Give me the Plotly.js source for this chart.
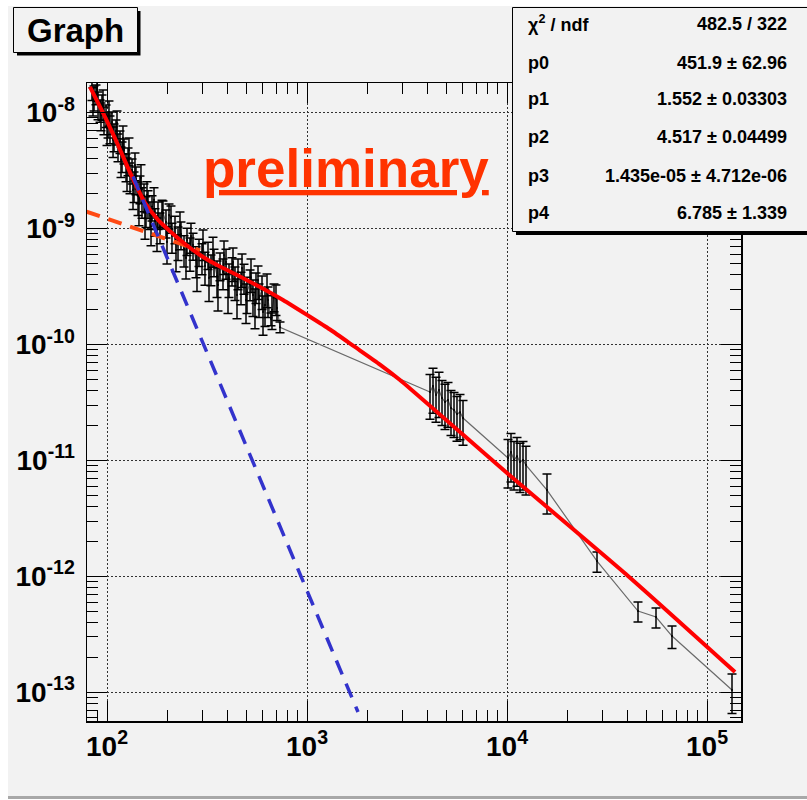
<!DOCTYPE html>
<html>
<head>
<meta charset="utf-8">
<script src="https://cdn.plot.ly/plotly-3.0.1.min.js"></script>
<style>
  html, body { margin: 0; padding: 0; background: #ffffff; width: 807px; height: 800px; overflow: hidden; }
  #chart { position: absolute; left: 8px; top: 6px; width: 799px; height: 790px; border-bottom: 3px solid #a8a8a8; }
</style>
</head>
<body>
<div id="chart"></div>
<script>
// Measured flux points (x = energy, y = flux, symmetric errors)
const energy = [
  // low-energy run
  84.1, 86.1, 88.1, 90.2, 92.3, 94.4, 96.6, 98.9, 101.2, 103.5,
  105.9, 108.4, 110.9, 113.5, 116.1, 118.9, 121.6, 124.5, 127.4, 130.3,
  133.4, 136.5, 139.6, 142.9, 146.2, 149.6, 153.1, 156.7, 160.3, 164.1,
  167.9, 173.8, 179.9, 184.1, 190.5, 197.2, 204.2, 211.3, 218.8, 226.5,
  234.4, 242.7, 251.2, 260.0, 269.2, 278.6, 288.4, 298.5, 309.0, 319.9,
  331.1, 342.8, 354.8, 367.3, 380.2, 393.6, 407.4, 421.7, 436.5, 451.9,
  467.7, 484.2, 501.2, 518.8, 537.0, 555.9, 575.4, 595.7, 616.6, 638.3,
  660.7, 683.9, 707.9, 732.8,
  85.1, 89.1, 93.3, 95.5, 100.0, 102.3, 107.2, 112.2, 117.5, 120.2,
  125.9, 128.8, 134.9, 138.0, 144.5, 147.9, 154.9, 158.5, 166.0, 171.8,
  177.8, 188.4, 199.5, 208.9, 221.3, 231.7, 248.3, 263.0, 281.8, 302.0,
  323.6, 338.8, 358.9, 384.6, 402.7, 426.6, 446.7, 473.2, 495.5, 524.8,
  549.5, 568.9, 602.6, 631.0, 668.3, 699.8,
  // 4-6 TeV run
  4121, 4266, 4416, 4571, 4732, 4898, 5070, 5248, 5433, 5623, 5821, 6026,
  // 10-12 TeV run
  10116, 10471, 10839, 11220, 11614, 12023, 12445,
  // high-energy points
  15849, 28184, 45186, 55590, 66834, 133352
];
const flux = [
  1.635e-8, 1.366e-8, 1.450e-8, 1.188e-8, 1.055e-8, 1.142e-8, 8.82e-9, 9.55e-9, 7.99e-9, 7.38e-9,
  8.31e-9, 6.29e-9, 6.95e-9, 5.16e-9, 5.70e-9, 4.31e-9, 4.76e-9, 3.47e-9, 3.91e-9, 2.84e-9,
  3.20e-9, 2.38e-9, 2.68e-9, 1.91e-9, 2.24e-9, 1.74e-9, 1.91e-9, 1.45e-9, 1.67e-9, 1.34e-9,
  1.54e-9, 1.17e-9, 1.34e-9, 1.05e-9, 1.36e-9, 1.14e-9, 1.31e-9, 8.63e-10, 1.01e-9, 7.81e-10,
  8.98e-10, 6.67e-10, 7.97e-10, 6.29e-10, 7.22e-10, 5.36e-10, 6.41e-10, 5.69e-10, 4.75e-10, 6.04e-10,
  4.57e-10, 5.25e-10, 3.90e-10, 4.85e-10, 4.22e-10, 5.15e-10, 3.75e-10, 4.39e-10, 3.53e-10, 4.22e-10,
  3.20e-10, 3.82e-10, 2.83e-10, 3.39e-10, 2.67e-10, 3.20e-10, 2.52e-10, 2.95e-10, 2.19e-10, 2.42e-10,
  1.66e-10, 2.62e-10, 2.07e-10, 1.41e-10,
  1.287e-8, 1.603e-8, 9.55e-9, 1.287e-8, 7.38e-9, 1.014e-8, 5.81e-9, 8.15e-9, 3.91e-9, 6.05e-9,
  3.08e-9, 4.76e-9, 2.15e-9, 3.54e-9, 1.63e-9, 2.74e-9, 1.24e-9, 1.95e-9, 1.05e-9, 1.77e-9,
  9.34e-10, 1.39e-9, 7.66e-10, 1.24e-9, 6.54e-10, 1.07e-9, 5.58e-10, 8.63e-10, 4.57e-10, 7.51e-10,
  3.75e-10, 6.54e-10, 3.26e-10, 5.92e-10, 2.95e-10, 5.15e-10, 2.67e-10, 4.57e-10, 2.42e-10, 4.14e-10,
  2.19e-10, 3.60e-10, 1.91e-10, 3.07e-10, 1.99e-10, 2.52e-10,
  3.89e-11, 4.39e-11, 3.67e-11, 4.05e-11, 3.45e-11, 3.19e-11, 3.32e-11, 2.83e-11, 2.72e-11, 2.51e-11, 2.61e-11, 2.32e-11,
  1.048e-11, 1.18e-11, 1.007e-11, 1.088e-11, 9.68e-12, 1.007e-11, 9.12e-12,
  5.55e-12, 1.354e-12, 5.02e-13, 4.455e-13, 3.054e-13, 1.045e-13
];
const fluxErr = [
  0.36e-8, 0.33e-8, 0.28e-8, 0.32e-8, 0.23e-8, 0.28e-8, 2.37e-9, 2.10e-9, 1.95e-9, 1.98e-9,
  1.83e-9, 1.69e-9, 1.70e-9, 1.39e-9, 1.25e-9, 1.27e-9, 1.16e-9, 0.93e-9, 1.05e-9, 0.84e-9,
  0.78e-9, 0.70e-9, 0.72e-9, 0.61e-9, 0.60e-9, 0.51e-9, 0.51e-9, 0.43e-9, 0.45e-9, 0.36e-9,
  0.38e-9, 0.31e-9, 0.36e-9, 0.31e-9, 0.37e-9, 0.31e-9, 0.32e-9, 2.5e-10, 2.7e-10, 2.5e-10,
  2.4e-10, 2.0e-10, 2.1e-10, 2.0e-10, 1.9e-10, 1.6e-10, 1.7e-10, 1.7e-10, 1.5e-10, 1.6e-10,
  1.35e-10, 1.4e-10, 1.35e-10, 1.3e-10, 1.25e-10, 1.5e-10, 1.2e-10, 1.2e-10, 1.13e-10, 1.25e-10,
  1.0e-10, 1.1e-10, 0.98e-10, 1.0e-10, 0.93e-10, 0.94e-10, 0.81e-10, 0.95e-10, 0.76e-10, 0.71e-10,
  0.21e-10, 0.70e-10, 0.46e-10, 0.15e-10,
  0.35e-8, 0.35e-8, 2.57e-9, 0.28e-8, 2.18e-9, 0.25e-8, 1.71e-9, 2.19e-9, 1.15e-9, 1.63e-9,
  0.99e-9, 1.28e-9, 0.69e-9, 0.95e-9, 0.57e-9, 0.81e-9, 0.43e-9, 0.58e-9, 0.34e-9, 0.48e-9,
  3.0e-10, 3.7e-10, 2.7e-10, 3.3e-10, 2.3e-10, 3.2e-10, 1.9e-10, 2.5e-10, 1.7e-10, 2.2e-10,
  1.4e-10, 1.9e-10, 1.31e-10, 1.9e-10, 1.1e-10, 1.65e-10, 1.0e-10, 1.47e-10, 0.9e-10, 1.33e-10,
  0.82e-10, 1.16e-10, 0.71e-10, 0.99e-10, 0.64e-10, 0.74e-10,
  1.63e-11, 1.84e-11, 1.54e-11, 1.70e-11, 1.45e-11, 1.34e-11, 1.39e-11, 1.19e-11, 1.14e-11, 1.05e-11, 1.10e-11, 0.97e-11,
  0.47e-11, 0.53e-11, 0.45e-11, 0.49e-11, 0.44e-11, 0.45e-11, 0.41e-11,
  2.1e-12, 0.27e-12, 0.98e-13, 0.87e-13, 0.67e-13, 0.39e-13
];

// Total fit curve
const fitE = [82.2, 97.7, 113.5, 133.4, 154.9, 179.9, 211.3, 245.5, 291.7, 354.8, 436.5, 582.1, 758.6, 1000, 1303, 1738, 2317, 2917, 10000, 40272, 138038];
const fitF = [1.667e-8, 9.19e-9, 5.26e-9, 2.79e-9, 1.67e-9, 1.19e-9, 9.17e-10, 7.36e-10, 5.92e-10, 4.85e-10, 4.06e-10, 3.13e-10, 2.42e-10, 1.80e-10, 1.347e-10, 9.52e-11, 6.72e-11, 4.94e-11, 7.78e-12, 1.007e-12, 1.493e-13];
// Steep power-law component
const steepE = [134.9, 1799];
const steepF = [2.814e-9, 6.75e-14];
// Shallow component (low-energy part)
const shallowE = [79, 291.7];
const shallowF = [1.40e-9, 6.48e-10];

// Axis labels
const xTickVals = [1e2, 1e3, 1e4, 1e5];
const xTickText = ['10<sup>2</sup>', '10<sup>3</sup>', '10<sup>4</sup>', '10<sup>5</sup>'];
const yTickVals = [1e-13, 1e-12, 1e-11, 1e-10, 1e-9, 1e-8];
const yTickText = ['10<sup>-13</sup>', '10<sup>-12</sup>', '10<sup>-11</sup>', '10<sup>-10</sup>', '10<sup>-9</sup>', '10<sup>-8</sup>'];

// Fit statistics
const statLabels = ['χ<sup>2</sup> / ndf', 'p0', 'p1', 'p2', 'p3', 'p4'];
const statValues = ['482.5 / 322', '451.9 ± 62.96', '1.552 ± 0.03303', '4.517 ± 0.04499', '1.435e-05 ± 4.712e-06', '6.785 ± 1.339'];

// connect the points in order of energy
const order = energy.map((_, i) => i).sort((a, b) => energy[a] - energy[b]);
const gE = order.map(i => energy[i]);
const gF = order.map(i => flux[i]);
const gErr = order.map(i => fluxErr[i]);

// page-pixel helpers for the decorations (plot frame spans x 87..741, y 83..721)
const FX0 = 87, FW = 654, FY0 = 83, FH = 638;
const px = p => (p - FX0) / FW;
const py = p => 1 - (p - FY0) / FH;

const BG = '#f2f2f2';
const labelFont = { family: "'Liberation Sans', Arial, sans-serif", size: 28, weight: 'bold', color: '#000' };

const traces = [
  { x: gE, y: gF, type: 'scatter', mode: 'lines',
    line: { color: '#6a6a6a', width: 1.2 }, hoverinfo: 'skip' },
  { x: gE, y: gF, type: 'scatter', mode: 'markers',
    marker: { size: 2, color: '#000' },
    error_y: { type: 'data', array: gErr, visible: true, color: '#000', thickness: 1.5, width: 4.5 },
    hoverinfo: 'skip' },
  { x: shallowE, y: shallowF, type: 'scatter', mode: 'lines',
    line: { color: '#ff4a14', width: 4, dash: '14px,9px' }, hoverinfo: 'skip' },
  { x: fitE, y: fitF, type: 'scatter', mode: 'lines',
    line: { color: '#ff0000', width: 4, shape: 'spline', smoothing: 0.6 }, hoverinfo: 'skip' },
  { x: steepE, y: steepF, type: 'scatter', mode: 'lines',
    line: { color: '#3333cc', width: 3.5, dash: '15px,10px' }, hoverinfo: 'skip' }
];

const axisCommon = {
  type: 'log', showline: true, linecolor: '#000', linewidth: 1.5, mirror: 'ticks',
  ticks: 'inside', ticklen: 20, tickwidth: 1, tickcolor: '#000',
  showgrid: true, gridcolor: '#333', gridwidth: 1, griddash: '2px,2px',
  zeroline: false, tickfont: labelFont,
  minor: { ticks: 'inside', ticklen: 11, tickwidth: 1, tickcolor: '#000', dtick: 'D1', showgrid: false }
};

const shapes = [
  // title box + shadow
  { type: 'rect', xref: 'paper', yref: 'paper', x0: px(17), x1: px(140.5), y0: py(11), y1: py(55.5),
    fillcolor: '#000', line: { width: 0 }, layer: 'above' },
  { type: 'rect', xref: 'paper', yref: 'paper', x0: px(13.5), x1: px(137.5), y0: py(7.5), y1: py(52.5),
    fillcolor: BG, line: { color: '#000', width: 1 }, layer: 'above' },
  // statistics box + shadow
  { type: 'rect', xref: 'paper', yref: 'paper', x0: px(516), x1: px(820), y0: py(11), y1: py(235),
    fillcolor: '#000', line: { width: 0 }, layer: 'above' },
  { type: 'rect', xref: 'paper', yref: 'paper', x0: px(512.5), x1: px(815), y0: py(7.5), y1: py(231.5),
    fillcolor: BG, line: { color: '#000', width: 1 }, layer: 'above' }
];

const statFont = { family: "'Liberation Sans', Arial, sans-serif", size: 18, weight: 'bold', color: '#000' };
const statRowsY = [24, 63, 99, 137, 176, 213];
const annotations = [
  { text: 'Graph', xref: 'paper', yref: 'paper', x: px(75), y: py(30), xanchor: 'center', yanchor: 'middle',
    showarrow: false, font: { family: "'Liberation Sans', Arial, sans-serif", size: 33, weight: 'bold', color: '#000' } },
  { text: '<u>preliminary</u>', xref: 'paper', yref: 'paper', x: px(346), y: py(168), xanchor: 'center', yanchor: 'middle',
    showarrow: false, font: { family: "'Liberation Sans', Arial, sans-serif", size: 53, weight: 'bold', color: '#ff3300' } }
];
statLabels.forEach((t, i) => annotations.push({
  text: t, xref: 'paper', yref: 'paper', x: px(526), y: py(statRowsY[i]), xanchor: 'left', yanchor: 'middle',
  showarrow: false, font: statFont }));
statValues.forEach((t, i) => annotations.push({
  text: t, xref: 'paper', yref: 'paper', x: px(789), y: py(statRowsY[i]), xanchor: 'right', yanchor: 'middle',
  showarrow: false, font: statFont }));

const layout = {
  width: 799, height: 790,
  margin: { l: 79, r: 66, t: 77, b: 75, pad: 0 },
  paper_bgcolor: BG, plot_bgcolor: BG,
  showlegend: false,
  xaxis: Object.assign({}, axisCommon, { range: [1.9, 5.17], tickmode: 'array', tickvals: xTickVals, ticktext: xTickText, ticklabelstandoff: 0 }),
  yaxis: Object.assign({}, axisCommon, { range: [-13.248, -7.744], tickmode: 'array', tickvals: yTickVals, ticktext: yTickText, ticklabelstandoff: 5 }),
  shapes: shapes,
  annotations: annotations
};

Plotly.newPlot('chart', traces, layout, { staticPlot: true, displayModeBar: false });
</script>
</body>
</html>
